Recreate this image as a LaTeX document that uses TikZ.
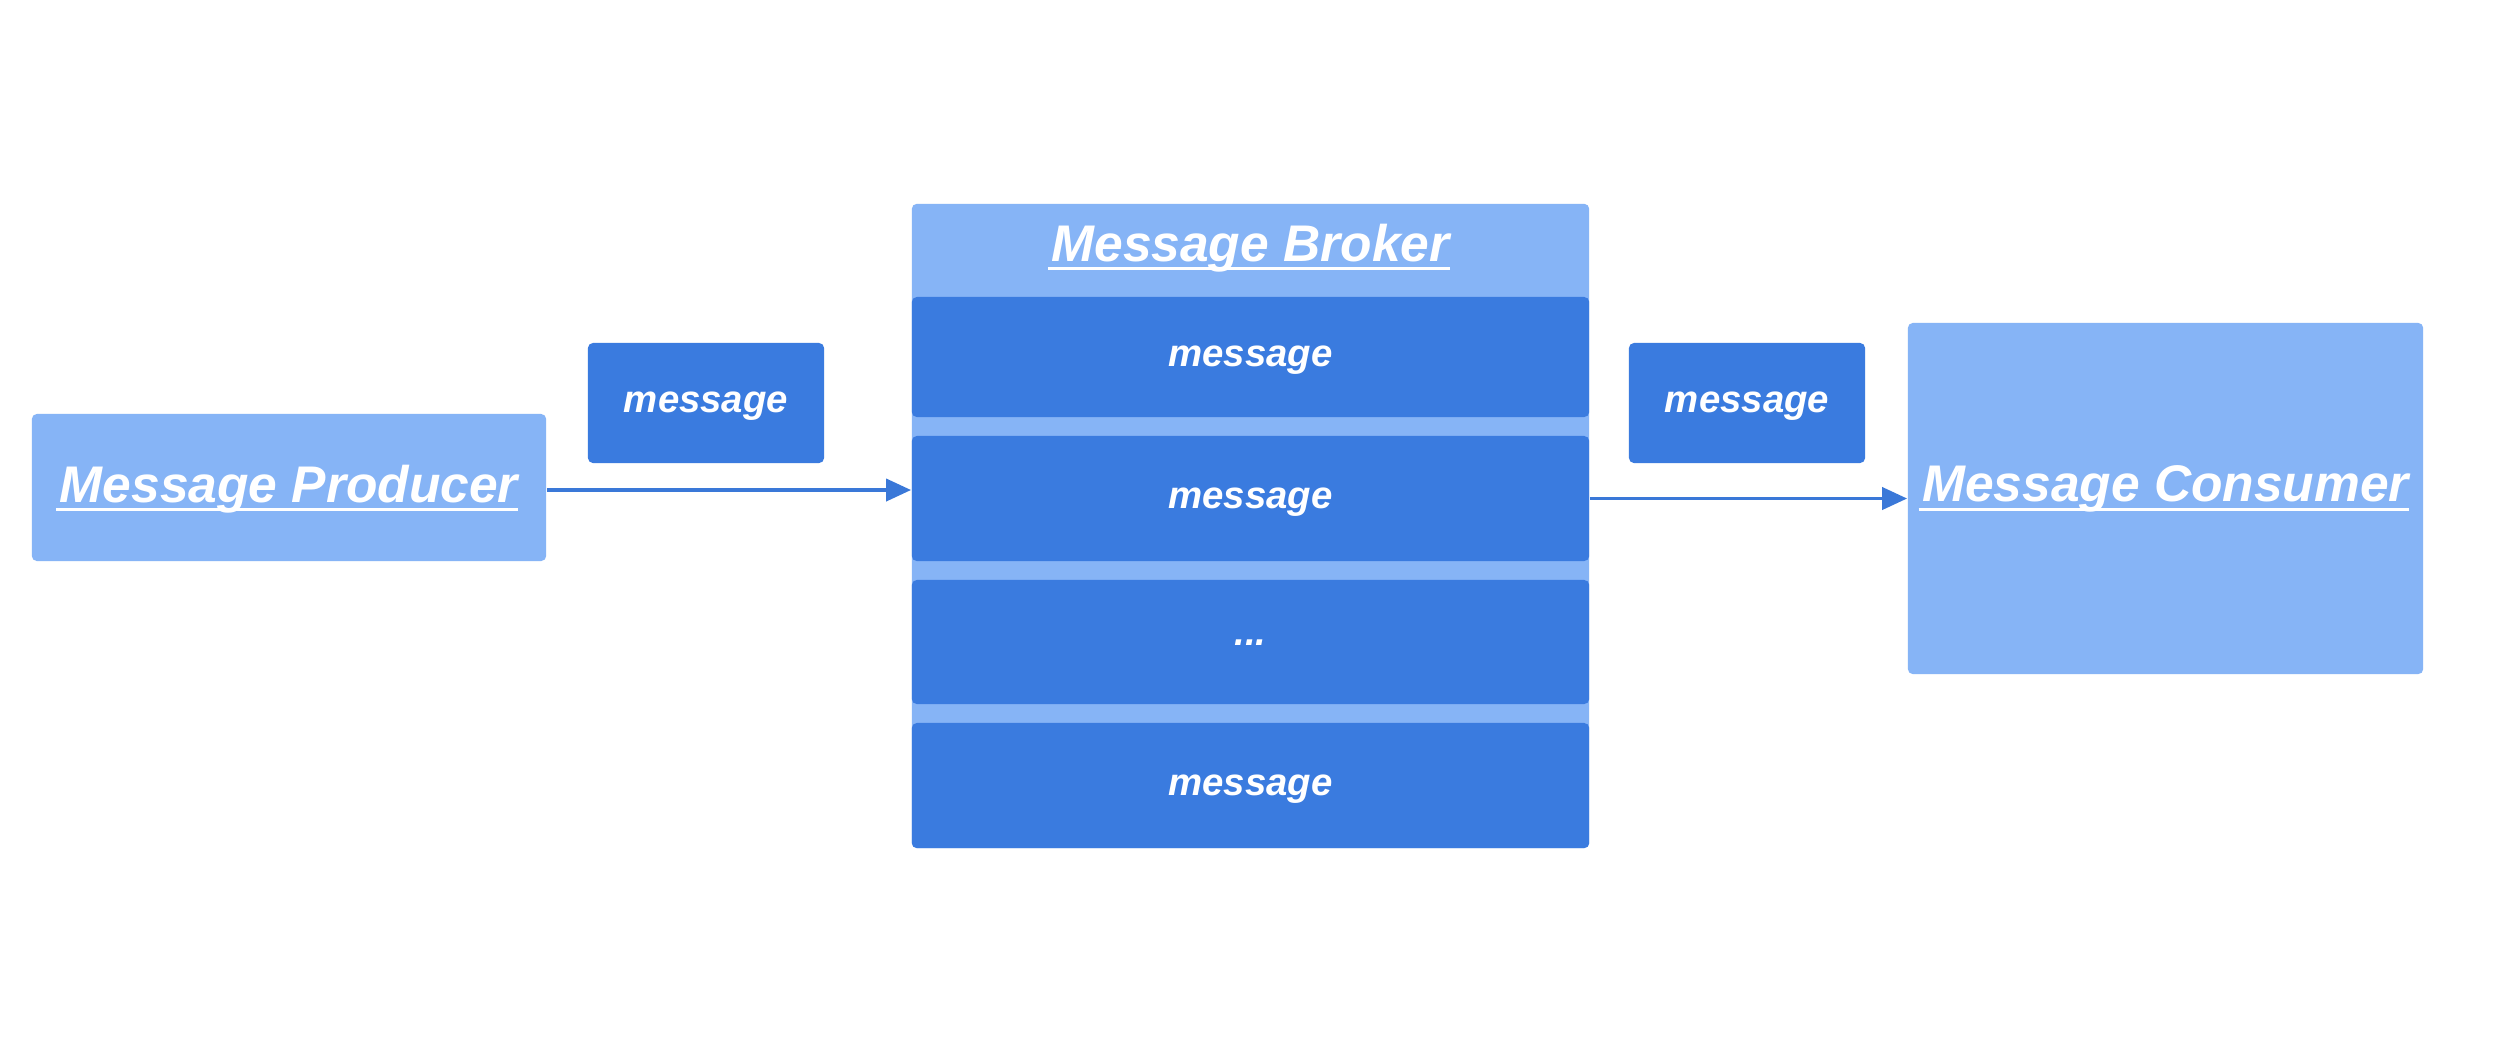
\documentclass[tikz,border=0pt]{standalone}
\usepackage{fontspec}
\setmainfont{Liberation Sans}
\usetikzlibrary{arrows.meta}
\definecolor{lightblue}{HTML}{86B4F6}
\definecolor{darkblue}{HTML}{3A7BDF}
\definecolor{arrowblue}{HTML}{3A78D8}
\newcommand\thickul[1]{\leavevmode\setbox0\hbox{#1}\rlap{\hspace{-1pt}\rule[-2.6pt]{\dimexpr\wd0+1pt\relax}{0.85pt}}\box0}
\tikzset{
  lightbox/.style={fill=lightblue, draw=none, rounded corners=0.05cm, inner sep=0pt},
  msgtext/.style={text=white, inner sep=0pt, font=\fontsize{10.9pt}{13pt}\selectfont\bfseries\itshape},
  titletext/.style={text=white, inner sep=0pt, font=\fontsize{14.65pt}{17pt}\selectfont\bfseries\itshape},
  conn/.style={draw=arrowblue, line width=1.1pt, -{Triangle[length=0.25cm,width=0.22cm]}}
}
\begin{document}
\begin{tikzpicture}[x=0.01cm,y=-0.01cm]
\useasboundingbox[fill=white] (0,0) rectangle (2504,1060);
% producer
\node[lightbox, minimum width=5.14cm, minimum height=1.47cm] (prod) at (289,487.5) {};
\node[titletext] (prodtext) at (289,489) {\thickul{Message Producer}};
% message 1
\node[lightbox, fill=darkblue, minimum width=2.36cm, minimum height=1.20cm] (msg1) at (706,403) {};
\node[msgtext] (msg1text) at (706,406) {message};
% broker
\node[lightbox, minimum width=6.77cm, minimum height=6.44cm] (broker) at (1250.5,526) {};
\node[titletext] (brokertext) at (1250.5,248) {\thickul{Message Broker}};
\node[lightbox, fill=darkblue, minimum width=6.77cm, minimum height=1.20cm] (row1) at (1250.5,357) {};
\node[msgtext] (row1text) at (1250.5,360) {message};
\node[lightbox, fill=darkblue, minimum width=6.77cm, minimum height=1.25cm] (row2) at (1250.5,498.5) {};
\node[msgtext] (row2text) at (1250.5,502) {message};
\node[lightbox, fill=darkblue, minimum width=6.77cm, minimum height=1.24cm] (row3) at (1250.5,642) {};
\node[msgtext] (row3text) at (1250.5,643) {...};
\node[lightbox, fill=darkblue, minimum width=6.77cm, minimum height=1.25cm] (row4) at (1250.5,785.5) {};
\node[msgtext] (row4text) at (1250.5,789) {message};
% message 2
\node[lightbox, fill=darkblue, minimum width=2.36cm, minimum height=1.20cm] (msg2) at (1747,403) {};
\node[msgtext] (msg2text) at (1747,406) {message};
% consumer
\node[lightbox, minimum width=5.15cm, minimum height=3.51cm] (cons) at (2165.5,498.5) {};
\node[titletext] (constext) at (2165.5,489) {\thickul{Message Consumer}};
% connectors
\coordinate (a1) at (prod.east |- 0,490);
\draw[conn] (a1) -- (a1 -| broker.west);
\draw[conn] (row2.east) -- (cons.west);
\end{tikzpicture}
\end{document}
